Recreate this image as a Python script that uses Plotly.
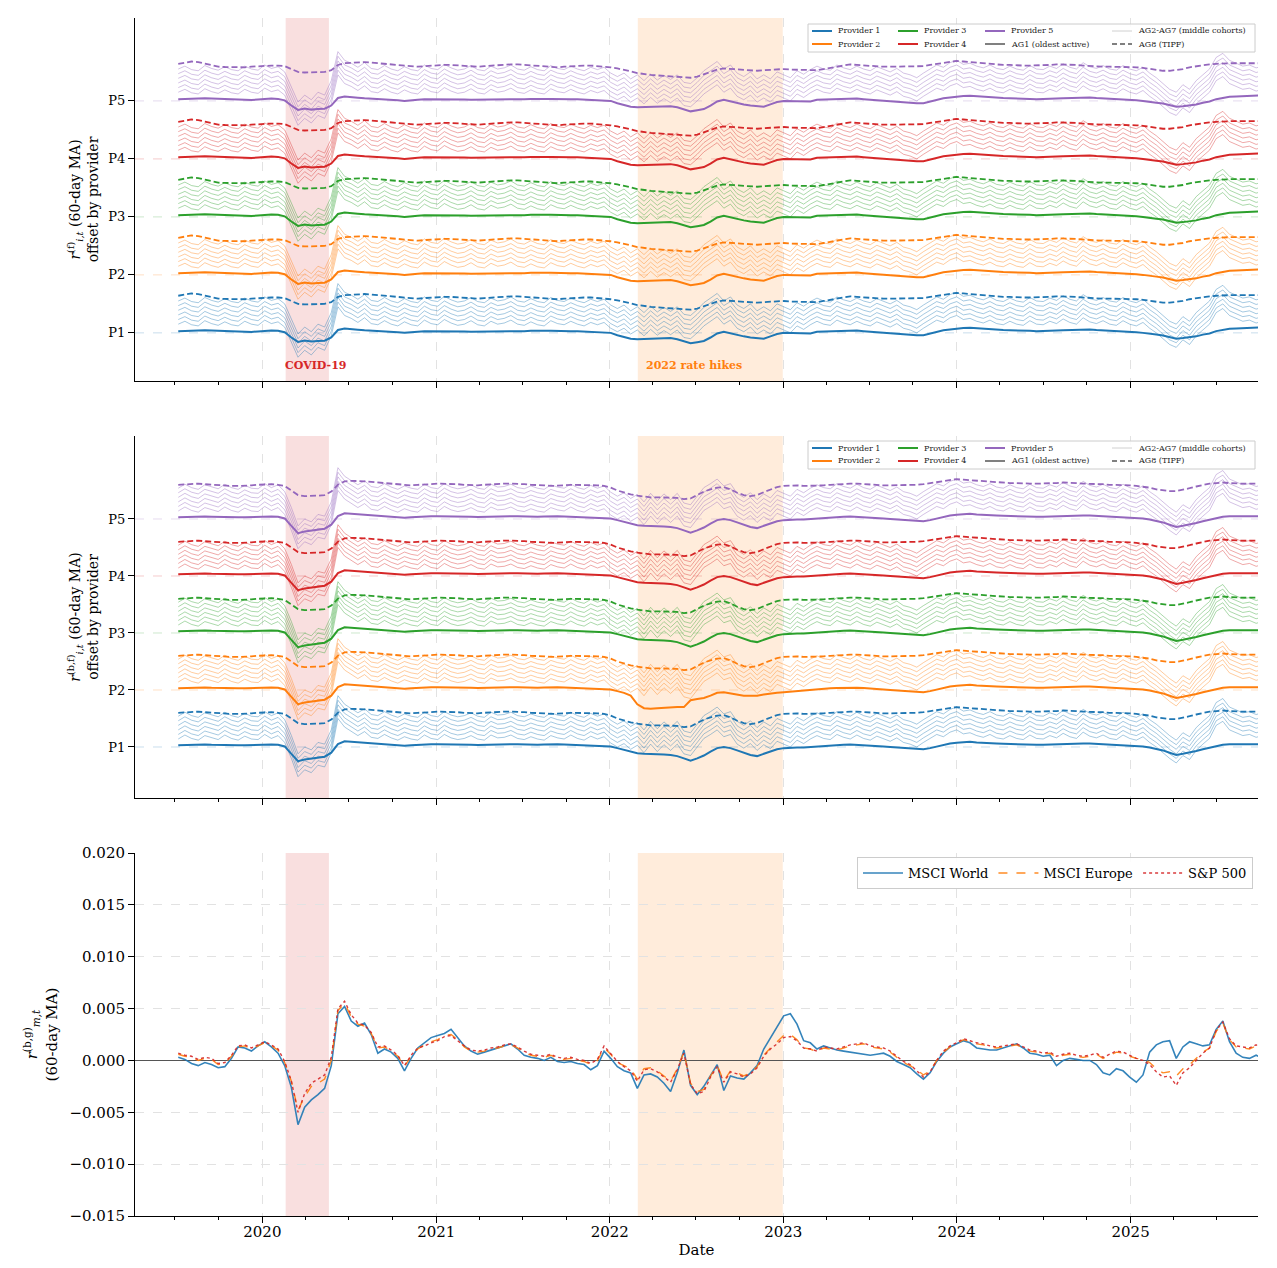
import pandas as pd
import plotly.graph_objects as go

# ---------------- data ----------------
DATES = pd.date_range("2019-07-08", periods=165, freq="14D")

PROVIDERS = ["Provider 1", "Provider 2", "Provider 3", "Provider 4", "Provider 5"]
PROVIDER_LEVELS = [1, 2, 3, 4, 5]
PROVIDER_TICKS = ["P1", "P2", "P3", "P4", "P5"]
COLORS = ["#1f77b4", "#ff7f0e", "#2ca02c", "#d62728", "#9467bd"]

# offset of each middle cohort (AG2..AG7) above the lowest middle cohort
MID_SHIFT = [0.0, 0.08, 0.16, 0.24, 0.32, 0.40]

# ---- panel 1: r^(f), values relative to the provider level ----
AG1_F = [
    0.03, 0.035, 0.04, 0.045, 0.045, 0.04, 0.035, 0.03, 0.02, 0.015,
    0.01, 0.015, 0.025, 0.035, 0.04, 0.035, 0.01, -0.08, -0.155, -0.13,
    -0.15, -0.14, -0.135, -0.08, 0.05, 0.075, 0.06, 0.055, 0.045, 0.04,
    0.03, 0.02, 0.015, 0.01, 0.0, 0.005, 0.02, 0.03, 0.03, 0.035,
    0.035, 0.035, 0.03, 0.025, 0.02, 0.02, 0.025, 0.025, 0.02, 0.025,
    0.03, 0.03, 0.03, 0.035, 0.03, 0.035, 0.035, 0.03, 0.035, 0.03,
    0.03, 0.025, 0.02, 0.02, 0.015, 0.0, -0.04, -0.07, -0.1, -0.11,
    -0.105, -0.1, -0.1, -0.095, -0.09, -0.11, -0.15, -0.18, -0.16, -0.14,
    -0.08, -0.01, 0.02, -0.01, -0.04, -0.06, -0.08, -0.09, -0.1, -0.06,
    -0.02, 0.0, -0.005, -0.01, -0.01, -0.01, 0.02, 0.025, 0.03, 0.035,
    0.04, 0.045, 0.04, 0.03, 0.02, 0.01, 0.005, 0.0, -0.01, -0.02,
    -0.03, -0.04, -0.04, -0.01, 0.02, 0.045, 0.06, 0.075, 0.085, 0.09,
    0.08, 0.07, 0.06, 0.055, 0.05, 0.045, 0.045, 0.04, 0.035, 0.03,
    0.03, 0.035, 0.04, 0.045, 0.05, 0.055, 0.06, 0.06, 0.05, 0.045,
    0.04, 0.035, 0.03, 0.02, 0.01, 0.0, -0.02, -0.03, -0.045, -0.07,
    -0.1, -0.09, -0.075, -0.06, -0.03, -0.01, 0.03, 0.05, 0.07, 0.075,
    0.08, 0.085, 0.09, 0.1, 0.1,
]
AG8_F = [
    0.64, 0.66, 0.68, 0.67, 0.64, 0.61, 0.59, 0.585, 0.58, 0.58,
    0.58, 0.59, 0.6, 0.61, 0.61, 0.61, 0.6, 0.55, 0.5, 0.49,
    0.49, 0.49, 0.5, 0.53, 0.62, 0.65, 0.66, 0.67, 0.67, 0.66,
    0.65, 0.63, 0.62, 0.61, 0.6, 0.59, 0.59, 0.6, 0.61, 0.62,
    0.62, 0.62, 0.61, 0.6, 0.59, 0.59, 0.6, 0.61, 0.62, 0.63,
    0.63, 0.63, 0.62, 0.61, 0.6, 0.59, 0.58, 0.58, 0.59, 0.6,
    0.61, 0.61, 0.61, 0.6, 0.6, 0.58, 0.56, 0.54, 0.51, 0.48,
    0.46, 0.45, 0.44, 0.43, 0.42, 0.42, 0.41, 0.40, 0.42, 0.46,
    0.5, 0.54, 0.56, 0.55, 0.54, 0.53, 0.52, 0.52, 0.53, 0.54,
    0.55, 0.55, 0.54, 0.54, 0.53, 0.53, 0.53, 0.55, 0.57, 0.6,
    0.62, 0.63, 0.62, 0.61, 0.6, 0.59, 0.59, 0.59, 0.59, 0.59,
    0.59, 0.59, 0.6, 0.62, 0.64, 0.66, 0.68, 0.69, 0.68, 0.67,
    0.65, 0.64, 0.63, 0.62, 0.62, 0.62, 0.61, 0.61, 0.61, 0.61,
    0.62, 0.62, 0.63, 0.63, 0.63, 0.62, 0.61, 0.6, 0.6, 0.59,
    0.59, 0.59, 0.59, 0.59, 0.58, 0.57, 0.55, 0.53, 0.52, 0.52,
    0.53, 0.55, 0.58, 0.6, 0.62, 0.63, 0.64, 0.65, 0.65, 0.65,
    0.65, 0.65, 0.65, 0.65, 0.65,
]
MID_F = [
    0.15, 0.2, 0.14, 0.12, 0.21, 0.16, 0.13, 0.19, 0.14, 0.12,
    0.2, 0.15, 0.13, 0.22, 0.16, 0.19, 0.1, -0.15, -0.42, -0.3,
    -0.38, -0.25, -0.3, -0.05, 0.45, 0.3, 0.25, 0.18, 0.26, 0.16,
    0.14, 0.21, 0.15, 0.12, 0.19, 0.14, 0.12, 0.22, 0.16, 0.14,
    0.23, 0.17, 0.13, 0.15, 0.21, 0.14, 0.12, 0.2, 0.15, 0.17,
    0.22, 0.15, 0.13, 0.19, 0.14, 0.12, 0.21, 0.16, 0.14, 0.2,
    0.15, 0.12, 0.18, 0.14, 0.18, 0.08, 0.02, 0.08, -0.02, 0.05,
    -0.05, 0.06, -0.04, 0.04, -0.03, 0.05, -0.08, -0.1, 0.0, 0.12,
    0.2, 0.28, 0.15, 0.22, 0.08, 0.02, 0.1, -0.02, 0.05, -0.02,
    0.1, 0.05, 0.0, 0.12, 0.06, 0.14, 0.2, 0.15, 0.13, 0.22,
    0.17, 0.14, 0.2, 0.15, 0.12, 0.19, 0.14, 0.1, 0.16, 0.08,
    0.05, 0.0, 0.08, 0.15, 0.22, 0.18, 0.26, 0.3, 0.23, 0.25,
    0.2, 0.17, 0.22, 0.16, 0.14, 0.2, 0.15, 0.13, 0.21, 0.15,
    0.14, 0.2, 0.16, 0.24, 0.18, 0.15, 0.26, 0.19, 0.16, 0.21,
    0.15, 0.13, 0.21, 0.15, 0.12, 0.18, 0.08, 0.0, -0.1, -0.2,
    -0.25, -0.12, -0.2, -0.05, 0.05, 0.15, 0.35, 0.42, 0.3, 0.25,
    0.2, 0.22, 0.17, 0.2, 0.18,
]

# ---- panel 2: r^(b,f) ----
AG1_BF = [
    0.03, 0.035, 0.04, 0.045, 0.045, 0.04, 0.035, 0.03, 0.03, 0.03,
    0.03, 0.035, 0.04, 0.045, 0.045, 0.04, 0.01, -0.12, -0.25, -0.22,
    -0.2, -0.18, -0.17, -0.1, 0.05, 0.1, 0.09, 0.08, 0.07, 0.06,
    0.05, 0.04, 0.03, 0.02, 0.02, 0.03, 0.04, 0.04, 0.05, 0.05,
    0.05, 0.05, 0.045, 0.04, 0.04, 0.035, 0.04, 0.04, 0.045, 0.05,
    0.05, 0.05, 0.045, 0.045, 0.04, 0.045, 0.05, 0.05, 0.045, 0.04,
    0.04, 0.035, 0.03, 0.03, 0.025, 0.01, -0.02, -0.05, -0.08, -0.11,
    -0.12, -0.12, -0.13, -0.13, -0.14, -0.16, -0.2, -0.24, -0.2, -0.15,
    -0.08, -0.02, 0.0, -0.02, -0.06, -0.1, -0.14, -0.16, -0.12, -0.08,
    -0.04, -0.02, -0.01, -0.01, -0.01, 0.0, 0.01, 0.02, 0.03, 0.035,
    0.04, 0.045, 0.04, 0.035, 0.03, 0.02, 0.01, 0.0, -0.01, -0.02,
    -0.03, -0.04, -0.04, -0.02, 0.01, 0.04, 0.06, 0.075, 0.085, 0.09,
    0.08, 0.07, 0.065, 0.06, 0.055, 0.05, 0.05, 0.045, 0.04, 0.04,
    0.04, 0.045, 0.05, 0.05, 0.055, 0.06, 0.06, 0.06, 0.055, 0.05,
    0.045, 0.04, 0.035, 0.03, 0.02, 0.01, -0.01, -0.03, -0.06, -0.1,
    -0.14, -0.12, -0.1, -0.07, -0.04, -0.01, 0.02, 0.04, 0.05, 0.05,
    0.05, 0.05, 0.05, 0.05, 0.05,
]
# Provider 2, panel 2: the AG1 step-down during the 2022 rate hikes (indices 66..92)
AG1_BF_PROV2_2022 = [
    -0.02, -0.05, -0.1, -0.25, -0.32, -0.33, -0.32, -0.31, -0.3, -0.3,
    -0.3, -0.18, -0.16, -0.14, -0.1, -0.05, -0.04, -0.06, -0.09, -0.1,
    -0.1, -0.1, -0.08, -0.06, -0.05, -0.04, -0.03,
]
AG8_BF = [
    0.6, 0.61, 0.62, 0.62, 0.61, 0.6, 0.59, 0.58, 0.58, 0.58,
    0.58, 0.59, 0.6, 0.61, 0.61, 0.6, 0.58, 0.5, 0.42, 0.4,
    0.4, 0.41, 0.42, 0.48, 0.6, 0.66, 0.67, 0.67, 0.66, 0.65,
    0.64, 0.62, 0.61, 0.6, 0.59, 0.59, 0.6, 0.6, 0.61, 0.62,
    0.62, 0.62, 0.61, 0.6, 0.59, 0.59, 0.6, 0.61, 0.62, 0.62,
    0.62, 0.62, 0.61, 0.6, 0.6, 0.59, 0.58, 0.58, 0.59, 0.6,
    0.6, 0.6, 0.6, 0.59, 0.58, 0.55, 0.5, 0.46, 0.43, 0.41,
    0.39, 0.38, 0.38, 0.38, 0.38, 0.37, 0.35, 0.36, 0.42, 0.48,
    0.52, 0.55, 0.56, 0.52, 0.46, 0.42, 0.4, 0.42, 0.47, 0.52,
    0.56, 0.58, 0.59, 0.59, 0.58, 0.58, 0.58, 0.59, 0.6, 0.61,
    0.62, 0.62, 0.62, 0.61, 0.6, 0.6, 0.59, 0.59, 0.59, 0.6,
    0.6, 0.6, 0.61, 0.63, 0.65, 0.67, 0.69, 0.7, 0.69, 0.68,
    0.67, 0.66, 0.65, 0.64, 0.64, 0.63, 0.63, 0.62, 0.62, 0.62,
    0.62, 0.63, 0.63, 0.64, 0.64, 0.63, 0.62, 0.62, 0.61, 0.61,
    0.6, 0.6, 0.6, 0.59, 0.58, 0.57, 0.55, 0.52, 0.5, 0.49,
    0.49, 0.51, 0.54, 0.57, 0.6, 0.62, 0.63, 0.64, 0.63, 0.62,
    0.62, 0.62, 0.62, 0.62, 0.62,
]
MID_BF = [
    0.14, 0.21, 0.15, 0.12, 0.2, 0.16, 0.13, 0.21, 0.15, 0.12,
    0.19, 0.14, 0.13, 0.22, 0.15, 0.2, 0.08, -0.2, -0.52, -0.4,
    -0.45, -0.32, -0.35, -0.1, 0.5, 0.35, 0.28, 0.2, 0.27, 0.17,
    0.15, 0.22, 0.16, 0.12, 0.18, 0.14, 0.12, 0.21, 0.15, 0.13,
    0.22, 0.16, 0.13, 0.15, 0.2, 0.14, 0.12, 0.21, 0.16, 0.17,
    0.21, 0.15, 0.13, 0.18, 0.14, 0.12, 0.2, 0.16, 0.14, 0.21,
    0.15, 0.12, 0.19, 0.14, 0.18, 0.07, 0.0, 0.06, -0.04, 0.03,
    -0.1, 0.05, -0.08, 0.04, -0.06, 0.05, -0.12, -0.15, 0.0, 0.15,
    0.22, 0.3, 0.18, 0.22, 0.05, -0.02, 0.06, -0.06, 0.04, -0.03,
    0.1, 0.05, 0.0, 0.12, 0.06, 0.14, 0.2, 0.15, 0.13, 0.22,
    0.17, 0.14, 0.21, 0.15, 0.12, 0.19, 0.14, 0.1, 0.16, 0.08,
    0.05, 0.0, 0.08, 0.15, 0.22, 0.18, 0.26, 0.3, 0.23, 0.25,
    0.2, 0.17, 0.22, 0.16, 0.14, 0.2, 0.15, 0.13, 0.21, 0.15,
    0.14, 0.2, 0.16, 0.24, 0.18, 0.15, 0.26, 0.19, 0.16, 0.21,
    0.15, 0.13, 0.21, 0.15, 0.12, 0.18, 0.08, 0.0, -0.1, -0.2,
    -0.28, -0.15, -0.22, -0.06, 0.05, 0.15, 0.38, 0.45, 0.3, 0.25,
    0.2, 0.22, 0.17, 0.2, 0.18,
]

# ---- panel 3: market returns (60-day MA) ----
MSCI_WORLD = [
    0.0003, 0.0001, -0.0003, -0.0005, -0.0002, -0.0004, -0.0007, -0.0006, 0.0002, 0.0013,
    0.0012, 0.0009, 0.0014, 0.0018, 0.0013, 0.0007, -0.0005, -0.0026, -0.0062, -0.0045,
    -0.0038, -0.0033, -0.0027, -0.0005, 0.0045, 0.0052, 0.0038, 0.0033, 0.0036, 0.0025,
    0.0007, 0.0011, 0.0008, 0.0002, -0.001, 0.0002, 0.0012, 0.0017, 0.0022, 0.0024,
    0.0026, 0.003, 0.0022, 0.0014, 0.0009, 0.0006, 0.0008, 0.001, 0.0012, 0.0014,
    0.0016, 0.0011, 0.0005, 0.0003, 0.0002, 0.0, 0.0003, -0.0001, -0.0002, -0.0001,
    -0.0003, -0.0004, -0.0009, -0.0005, 0.0009, 0.0002, -0.0006, -0.001, -0.0012, -0.0027,
    -0.0014, -0.0013, -0.0016, -0.0022, -0.003, -0.0012, 0.001, -0.0024, -0.0033, -0.0025,
    -0.0014, -0.0004, -0.0029, -0.0015, -0.0017, -0.0018, -0.0012, -0.0005, 0.0011, 0.0022,
    0.0033, 0.0043, 0.0045, 0.0035, 0.0019, 0.0017, 0.0011, 0.0014, 0.0012, 0.001,
    0.0009, 0.0008, 0.0007, 0.0006, 0.0005, 0.0006, 0.0007, 0.0004, -0.0001, -0.0004,
    -0.0007, -0.0013, -0.0018, -0.0012, -0.0001, 0.0007, 0.0013, 0.0016, 0.0019, 0.0017,
    0.0012, 0.0011, 0.001, 0.001, 0.0012, 0.0014, 0.0016, 0.0012, 0.0007, 0.0006,
    0.0004, 0.0005, -0.0005, 0.0, 0.0002, 0.0001, 0.0, 0.0, -0.0004, -0.0012,
    -0.0014, -0.0008, -0.001, -0.0016, -0.0021, -0.0014, 0.0008, 0.0015, 0.0018, 0.0019,
    0.0002, 0.0013, 0.0018, 0.0016, 0.0014, 0.0015, 0.003, 0.0038, 0.0018, 0.0007,
    0.0003, 0.0002, 0.0005, 0.0002, 0.0003,
]
MSCI_EUROPE = [
    0.0006, 0.0004, 0.0003, 0.0, 0.0002, 0.0001, -0.0004, -0.0003, 0.0004, 0.0013,
    0.0014, 0.0011, 0.0014, 0.0017, 0.0014, 0.001, -0.0002, -0.002, -0.0048, -0.0035,
    -0.0025, -0.0022, -0.0018, 0.0, 0.0048, 0.0055, 0.0042, 0.0035, 0.0033, 0.0026,
    0.0012, 0.0013, 0.0009, 0.0004, -0.0006, 0.0004, 0.0011, 0.0015, 0.0018, 0.002,
    0.0024, 0.0025, 0.002, 0.0013, 0.0009, 0.0008, 0.0009, 0.0011, 0.0012, 0.0014,
    0.0015, 0.0012, 0.0008, 0.0005, 0.0004, 0.0003, 0.0005, 0.0002, 0.0001, 0.0002,
    0.0, -0.0001, -0.0004, 0.0, 0.0012, 0.0006, -0.0002, -0.0005, -0.0008, -0.0018,
    -0.0008, -0.0007, -0.001, -0.0015, -0.002, -0.0008, 0.0008, -0.0022, -0.003, -0.0028,
    -0.0015, -0.0005, -0.002, -0.001, -0.0012, -0.0015, -0.0012, -0.0006, 0.0005, 0.0012,
    0.0018, 0.0024, 0.0025, 0.002, 0.0012, 0.0011, 0.0008, 0.0012, 0.0011, 0.001,
    0.0012, 0.0014, 0.0015, 0.0016, 0.0013, 0.0012, 0.0011, 0.0008, 0.0003, -0.0002,
    -0.0005, -0.0009, -0.0014, -0.001, 0.0, 0.0008, 0.0013, 0.0016, 0.002, 0.0018,
    0.0016, 0.0015, 0.0013, 0.0012, 0.0013, 0.0014, 0.0015, 0.0012, 0.0009, 0.0008,
    0.0006, 0.0007, 0.0003, 0.0005, 0.0006, 0.0004, 0.0003, 0.0004, 0.0006, 0.0002,
    0.0005, 0.0008, 0.0007, 0.0004, 0.0002, 0.0001, -0.0002, -0.0008, -0.0012, -0.0011,
    -0.0015, -0.0008, -0.0004, 0.0002, 0.0008, 0.0012, 0.0028, 0.0036, 0.002, 0.0013,
    0.0012, 0.0011, 0.0014, 0.001, 0.0012,
]
SP500 = [
    0.0007, 0.0005, 0.0004, 0.0001, 0.0003, 0.0002, -0.0003, -0.0002, 0.0005, 0.0014,
    0.0015, 0.0012, 0.0015, 0.0018, 0.0015, 0.0011, -0.0001, -0.002, -0.005, -0.0032,
    -0.0022, -0.0018, -0.0014, 0.0003, 0.005, 0.0057, 0.0044, 0.0036, 0.0034, 0.0027,
    0.0013, 0.0014, 0.001, 0.0005, -0.0005, 0.0005, 0.0012, 0.0014, 0.0017, 0.0019,
    0.0023, 0.0024, 0.0019, 0.0014, 0.001, 0.0009, 0.001, 0.0012, 0.0013, 0.0015,
    0.0016, 0.0013, 0.0009, 0.0006, 0.0005, 0.0004, 0.0006, 0.0003, 0.0002, 0.0003,
    0.0001, 0.0, -0.0003, 0.0001, 0.0014, 0.0007, -0.0001, -0.0006, -0.001, -0.002,
    -0.0009, -0.0008, -0.0011, -0.0016, -0.0021, -0.0009, 0.0007, -0.0023, -0.0032, -0.003,
    -0.0016, -0.0006, -0.0021, -0.0011, -0.0013, -0.0016, -0.0013, -0.0007, 0.0004, 0.0011,
    0.0016, 0.0022, 0.0023, 0.0019, 0.0012, 0.0011, 0.0009, 0.0013, 0.0012, 0.0011,
    0.0013, 0.0015, 0.0016, 0.0017, 0.0014, 0.0013, 0.0012, 0.0009, 0.0004, -0.0001,
    -0.0004, -0.001, -0.0016, -0.0011, 0.0, 0.0009, 0.0014, 0.0017, 0.0021, 0.0019,
    0.0017, 0.0016, 0.0014, 0.0013, 0.0014, 0.0015, 0.0016, 0.0013, 0.001, 0.0009,
    0.0007, 0.0008, 0.0004, 0.0006, 0.0007, 0.0005, 0.0004, 0.0005, 0.0007, 0.0003,
    0.0006, 0.0009, 0.0008, 0.0005, 0.0002, 0.0, -0.0004, -0.0011, -0.0016, -0.0015,
    -0.0024, -0.0012, -0.0007, 0.0, 0.0007, 0.0012, 0.0029, 0.0037, 0.0021, 0.0014,
    0.0013, 0.0012, 0.0015, 0.0011, 0.0013,
]

MARKET_NAMES = ["MSCI World", "MSCI Europe", "S&P 500"]

EVENTS = [("2020-02-19", "2020-05-20", "COVID-19", "#d62728"),
          ("2022-03-01", "2022-12-31", "2022 rate hikes", "#ff7f0e")]

for arr in (AG1_F, AG8_F, MID_F, AG1_BF, AG8_BF, MID_BF, MSCI_WORLD, MSCI_EUROPE, SP500):
    assert len(arr) == len(DATES), len(arr)

# ---------------- figure ----------------
FONT = "DejaVu Serif"
W, H = 1277, 1268
L, R, T, B = 135, 19, 18, 52
PW, PH = W - L - R, H - T - B
DASH = "6px,3px"


def px(x):
    return (x - L) / PW


def py(y):
    return (H - B - y) / PH


def rgba(hexc, a):
    h = hexc.lstrip("#")
    return "rgba(%d,%d,%d,%.3f)" % (int(h[0:2], 16), int(h[2:4], 16), int(h[4:6], 16), a)


fig = go.Figure()

panels = [
    ("x", "y", AG1_F, AG8_F, MID_F),
    ("x2", "y2", AG1_BF, AG8_BF, MID_BF),
]
for pi, (xa, ya, ag1, ag8, mid) in enumerate(panels):
    for k, (name, lvl, col) in enumerate(zip(PROVIDERS, PROVIDER_LEVELS, COLORS)):
        a1 = list(ag1)
        if pi == 1 and k == 1:
            a1 = ag1[:66] + AG1_BF_PROV2_2022 + ag1[66 + len(AG1_BF_PROV2_2022):]
        for s in MID_SHIFT:
            fig.add_trace(go.Scatter(
                x=DATES, y=[lvl + v + s for v in mid], xaxis=xa, yaxis=ya,
                mode="lines", line=dict(color=rgba(col, 0.5), width=0.8),
                showlegend=False, hoverinfo="skip"))
        fig.add_trace(go.Scatter(
            x=DATES, y=[lvl + v for v in ag8], xaxis=xa, yaxis=ya,
            mode="lines", line=dict(color=col, width=1.8, dash=DASH),
            showlegend=False, hoverinfo="skip"))
        fig.add_trace(go.Scatter(
            x=DATES, y=[lvl + v for v in a1], xaxis=xa, yaxis=ya,
            mode="lines", line=dict(color=col, width=2),
            showlegend=False, hoverinfo="skip"))

market_styles = [("#1f77b4", "solid", 1.6), ("#ff7f0e", "dash", 1.4), ("#d62728", "dot", 1.4)]
for name, vals, (col, dash, wd) in zip(MARKET_NAMES, [MSCI_WORLD, MSCI_EUROPE, SP500], market_styles):
    fig.add_trace(go.Scatter(x=DATES, y=vals, xaxis="x3", yaxis="y3", mode="lines", name=name,
                             line=dict(color=col, width=wd, dash=dash), opacity=0.9))

xcommon = dict(
    type="date", range=["2019-04-08", "2025-09-26"], dtick="M12", tick0="2020-01-01",
    ticks="outside", ticklen=6, tickcolor="black", showline=True, linecolor="black", linewidth=1,
    showgrid=True, gridcolor="#e2e2e2", griddash="dash", gridwidth=1, zeroline=False,
    tickformat="%Y", tickfont=dict(size=15, family=FONT, color="black"), automargin=False,
    minor=dict(dtick="M3", tick0="2020-01-01", ticks="outside", ticklen=3, tickcolor="black", showgrid=False),
)
doms = {"1": [py(381), 1.0], "2": [py(798), py(436)], "3": [0.0, py(853)]}

ytop = dict(
    tickvals=PROVIDER_LEVELS, ticktext=PROVIDER_TICKS, ticks="outside", ticklen=6, tickcolor="black",
    showline=True, linecolor="black", linewidth=1, showgrid=False, zeroline=False, automargin=False,
    tickfont=dict(size=13, family=FONT, color="black"),
)

fig.update_layout(
    width=W, height=H, margin=dict(l=L, r=R, t=T, b=B, autoexpand=False),
    paper_bgcolor="white", plot_bgcolor="white",
    font=dict(family=FONT, color="black"),
    xaxis=dict(xcommon, domain=[0, 1], anchor="y", showticklabels=False),
    xaxis2=dict(xcommon, domain=[0, 1], anchor="y2", showticklabels=False),
    xaxis3=dict(xcommon, domain=[0, 1], anchor="y3", ticklabelstandoff=-4,
                title=dict(text="Date", font=dict(size=15, family=FONT), standoff=4)),
    yaxis=dict(ytop, domain=doms["1"], anchor="x", range=[0.17, 6.43],
               title=dict(text="<i>r</i><sup>(f)</sup><sub><i>i,t</i></sub> (60-day MA)<br>offset by provider",
                          font=dict(size=14, family=FONT), standoff=6)),
    yaxis2=dict(ytop, domain=doms["2"], anchor="x2", range=[0.105, 6.456],
                title=dict(text="<i>r</i><sup>(b,f)</sup><sub><i>i,t</i></sub> (60-day MA)<br>offset by provider",
                           font=dict(size=14, family=FONT), standoff=6)),
    yaxis3=dict(domain=doms["3"], anchor="x3", range=[-0.015, 0.020], dtick=0.005, tick0=0,
                tickformat=".3f", ticks="outside", ticklen=6, tickcolor="black", automargin=False,
                showline=True, linecolor="black", linewidth=1,
                showgrid=True, gridcolor="#e2e2e2", griddash="dash",
                zeroline=True, zerolinecolor="#555555", zerolinewidth=1,
                tickfont=dict(size=15, family=FONT, color="black"),
                title=dict(text="<i>r</i><sup>(b,g)</sup><sub><i>m,t</i></sub><br>(60-day MA)",
                           font=dict(size=15, family=FONT), standoff=8)),
    legend=dict(orientation="h", x=px(1253), xanchor="right", y=py(857), yanchor="top",
                bgcolor="rgba(255,255,255,0.9)", bordercolor="#cccccc", borderwidth=1,
                font=dict(size=13, family=FONT), itemwidth=40),
)

shapes = []
annotations = []
# event shading in all panels
for xa, ya in (("x", "y"), ("x2", "y2"), ("x3", "y3")):
    for (s, e, lab, col) in EVENTS:
        shapes.append(dict(type="rect", xref=xa, yref=ya + " domain", x0=s, x1=e, y0=0, y1=1,
                           fillcolor=rgba(col, 0.15), line=dict(width=0), layer="below"))
# provider-coloured reference lines
for xa, ya in (("x", "y"), ("x2", "y2")):
    for lvl, col in zip(PROVIDER_LEVELS, COLORS):
        shapes.append(dict(type="line", xref=xa + " domain", yref=ya, x0=0, x1=1, y0=lvl, y1=lvl,
                           line=dict(color=rgba(col, 0.3), width=0.8, dash="dash"), layer="below"))

# event labels (panel 1)
annotations.append(dict(xref="paper", yref="paper", x=px(283), y=py(366), xanchor="left", yanchor="middle",
                        text="<b>COVID-19</b>", showarrow=False,
                        font=dict(size=11, family=FONT, color="#d62728")))
annotations.append(dict(xref="paper", yref="paper", x=px(644), y=py(366), xanchor="left", yanchor="middle",
                        text="<b>2022 rate hikes</b>", showarrow=False,
                        font=dict(size=11, family=FONT, color="#ff7f0e")))

# cohort legends for panels 1 and 2 (drawn as a boxed key)
legend_items = [
    (812, 0, COLORS[0], "solid", 2, "Provider 1"),
    (812, 1, COLORS[1], "solid", 2, "Provider 2"),
    (898, 0, COLORS[2], "solid", 2, "Provider 3"),
    (898, 1, COLORS[3], "solid", 2, "Provider 4"),
    (985, 0, COLORS[4], "solid", 2, "Provider 5"),
    (985, 1, "#808080", "solid", 2, "AG1 (oldest active)"),
    (1112, 0, "#d0d0d0", "solid", 1, "AG2-AG7 (middle cohorts)"),
    (1112, 1, "#808080", "5px,3px", 2, "AG8 (TIPF)"),
]
for top in (24, 441):
    shapes.append(dict(type="rect", xref="paper", yref="paper", x0=px(808), x1=px(1255),
                       y0=py(top + 28), y1=py(top), fillcolor="rgba(255,255,255,0.85)",
                       line=dict(color="#cccccc", width=1), layer="above"))
    for (lx, row, col, dash, wd, lab) in legend_items:
        yy = top + 7 + row * 13
        shapes.append(dict(type="line", xref="paper", yref="paper", x0=px(lx), x1=px(lx + 20),
                           y0=py(yy), y1=py(yy), line=dict(color=col, width=wd, dash=dash), layer="above"))
        annotations.append(dict(xref="paper", yref="paper", x=px(lx + 24), y=py(yy), xanchor="left",
                                yanchor="middle", text=lab, showarrow=False,
                                font=dict(size=8, family=FONT, color="#222222")))

fig.update_layout(shapes=shapes, annotations=annotations)
fig.write_html("out.html")
